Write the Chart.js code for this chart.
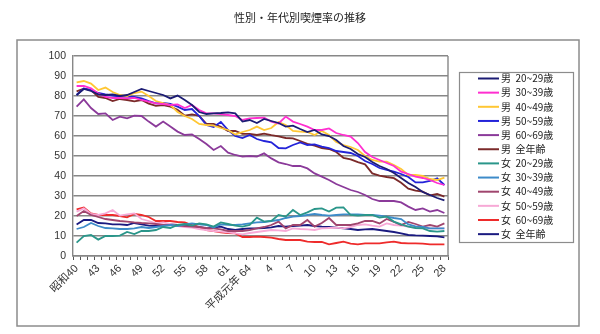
<!DOCTYPE html>
<html>
<head>
<meta charset="utf-8">
<script src="https://cdn.jsdelivr.net/npm/chart.js@4/dist/chart.umd.min.js"></script>
<style>
    html, body { margin: 0; padding: 0; background: #fff; }
    #wrap { width: 600px; height: 334px; }
</style>
</head>
<body>
<div id="wrap"><canvas id="chart" width="600" height="334"></canvas></div>
<script>
const chartTitle = '性別・年代別喫煙率の推移';

// 昭和40年 (1965) 〜 平成28年 (2016)
const years = [
    '昭和40', '41', '42', '43', '44', '45', '46', '47', '48', '49',
    '50', '51', '52', '53', '54', '55', '56', '57', '58', '59',
    '60', '61', '62', '63', '平成元年 64', '2', '3', '4', '5', '6',
    '7', '8', '9', '10', '11', '12', '13', '14', '15', '16',
    '17', '18', '19', '20', '21', '22', '23', '24', '25', '26',
    '27', '28'
];

const yTicks = [0, 10, 20, 30, 40, 50, 60, 70, 80, 90, 100];

const seriesNames = [
    '男  20~29歳', '男  30~39歳', '男  40~49歳', '男  50~59歳', '男  60~69歳', '男  全年齢',
    '女  20~29歳', '女  30~39歳', '女  40~49歳', '女  50~59歳', '女  60~69歳', '女  全年齢'
];

const male20 = [
    80.5, 83.5, 82.5, 80.8, 80.5, 80.8, 80.0, 80.5, 82.0, 83.5,
    82.5, 81.5, 80.5, 78.8, 80.2, 78.0, 75.5, 72.0, 71.0, 71.3,
    71.5, 71.8, 71.3, 67.2, 68.0, 66.5, 68.5, 67.5, 66.5, 64.7,
    65.2, 63.5, 62.0, 63.0, 60.8, 60.0, 58.0, 55.0, 53.5, 51.0,
    49.5, 47.0, 45.0, 43.5, 41.5, 39.0, 36.5, 34.5, 32.0, 30.5,
    29.0, 27.8
];
const male30 = [
    85.0, 85.0, 83.8, 81.3, 79.5, 79.0, 79.0, 78.8, 79.0, 78.0,
    77.2, 76.3, 76.0, 75.5, 75.8, 74.0, 75.5, 73.0, 71.3, 71.3,
    71.0, 70.5, 70.0, 68.0, 68.8, 69.0, 69.2, 67.2, 66.3, 69.7,
    67.2, 66.0, 64.7, 63.0, 63.0, 63.8, 61.5, 60.5, 59.7, 56.5,
    52.0, 49.5, 48.0, 46.5, 45.0, 42.2, 41.0, 39.7, 39.0, 38.0,
    36.5, 35.5
];
const male40 = [
    86.8, 87.5, 86.2, 83.0, 84.2, 82.0, 80.5, 80.0, 81.5, 82.2,
    80.0, 77.5, 76.5, 75.5, 72.0, 70.0, 68.5, 66.0, 65.5, 65.2,
    64.0, 63.0, 60.8, 62.0, 63.0, 64.7, 63.0, 64.0, 67.0, 65.5,
    62.5, 62.2, 62.0, 60.5, 62.5, 60.5, 57.0, 55.5, 54.5, 53.0,
    50.0, 48.0, 47.2, 47.2, 45.5, 43.5, 40.5, 40.5, 40.0, 38.5,
    38.0, 39.2
];
const male50 = [
    80.5, 83.8, 83.0, 81.5, 80.8, 80.2, 79.7, 79.7, 79.5, 78.8,
    77.5, 76.3, 76.5, 76.0, 74.7, 73.0, 73.5, 70.0, 65.5, 64.5,
    67.0, 63.0, 60.0, 59.0, 60.5, 58.5, 57.5, 56.8, 54.0, 53.8,
    55.5, 56.8, 55.5, 55.8, 54.7, 54.0, 52.5, 52.0, 51.5, 50.0,
    47.5, 46.0, 44.0, 43.0, 42.2, 41.0, 39.5, 36.8, 36.8, 37.5,
    38.8, 35.5
];
const male60 = [
    74.7, 78.3, 74.0, 71.0, 71.3, 68.0, 69.7, 68.8, 70.2, 70.0,
    67.2, 64.7, 67.2, 64.7, 62.2, 60.5, 60.8, 58.5, 56.0, 53.0,
    55.0, 51.7, 50.5, 49.7, 50.0, 49.7, 51.3, 48.8, 46.8, 46.0,
    45.0, 45.0, 43.8, 41.3, 39.7, 38.0, 36.0, 34.5, 33.0, 32.0,
    30.5, 28.5, 27.5, 27.5, 27.5, 26.8, 24.7, 23.0, 23.8, 22.2,
    23.0, 21.5
];
const maleAll = [
    82.3, 83.7, 83.0, 79.5, 79.0, 77.5, 78.5, 78.0, 77.3, 78.0,
    76.2, 75.1, 75.4, 74.7, 73.1, 70.2, 70.8, 70.1, 66.1, 66.1,
    64.6, 62.5, 62.5, 61.1, 61.1, 60.5, 61.2, 60.4, 59.8, 59.0,
    58.8, 57.5, 56.1, 55.2, 54.0, 53.5, 52.0, 49.1, 48.3, 46.9,
    45.8, 41.3, 40.2, 39.5, 38.9, 36.6, 33.7, 32.7, 32.2, 30.3,
    31.0, 29.7
];
const female20 = [
    6.7, 10.0, 10.5, 8.2, 10.0, 10.0, 10.2, 12.0, 11.0, 12.5,
    12.5, 13.0, 14.5, 14.0, 15.5, 16.0, 15.2, 16.3, 15.8, 14.7,
    16.8, 16.0, 15.2, 14.7, 15.5, 19.2, 17.2, 17.5, 20.5, 19.7,
    23.0, 20.5, 21.8, 23.5, 23.8, 22.2, 24.2, 24.3, 20.5, 20.2,
    20.5, 20.5, 19.2, 19.7, 17.2, 15.8, 14.7, 14.0, 13.8, 12.5,
    12.2, 12.5
];
const female30 = [
    13.5, 14.5, 16.5, 15.0, 14.0, 13.8, 13.5, 13.5, 13.8, 14.5,
    14.0, 14.5, 15.0, 15.5, 15.0, 15.8, 16.3, 15.8, 15.5, 14.2,
    15.8, 15.6, 15.5, 15.8, 16.3, 16.8, 17.0, 17.5, 18.0, 19.0,
    19.7, 20.0, 20.5, 21.0, 20.5, 20.2, 20.5, 20.8, 20.8, 20.8,
    20.5, 20.5, 20.2, 19.7, 19.0, 18.5, 15.8, 14.8, 14.5, 13.8,
    13.8, 13.8
];
const female40 = [
    20.0, 22.5, 20.5, 19.5, 18.5, 18.0, 17.5, 17.2, 16.8, 16.5,
    16.3, 16.0, 15.5, 15.5, 15.2, 15.0, 14.7, 14.5, 14.0, 13.8,
    13.3, 12.5, 12.5, 12.5, 13.0, 13.8, 14.5, 15.5, 17.2, 13.8,
    15.5, 15.5, 18.0, 14.7, 16.5, 19.0, 15.5, 15.5, 15.5, 16.3,
    17.5, 17.5, 16.3, 18.5, 17.0, 15.5, 17.0, 16.0, 14.7, 15.5,
    14.7, 16.3
];
const female50 = [
    22.2, 23.8, 21.0, 20.5, 21.3, 23.0, 20.2, 20.8, 21.3, 18.5,
    17.5, 16.3, 16.8, 16.0, 15.0, 14.5, 14.2, 13.5, 13.0, 12.5,
    12.2, 11.8, 11.3, 10.8, 11.5, 12.0, 12.5, 13.0, 12.8, 12.5,
    13.8, 13.5, 13.3, 13.0, 13.8, 14.0, 14.2, 13.8, 14.5, 15.5,
    15.8, 15.2, 14.7, 16.3, 15.5, 15.2, 14.7, 14.2, 14.0, 13.8,
    13.8, 13.8
];
const female60 = [
    23.3, 24.2, 21.3, 20.5, 20.5, 20.5, 20.0, 19.3, 21.0, 20.5,
    19.5, 17.5, 17.5, 17.5, 17.0, 16.8, 15.5, 14.5, 13.0, 12.5,
    11.8, 11.5, 11.3, 9.5, 9.5, 9.7, 9.5, 9.2, 8.5, 8.0,
    8.0, 8.0, 7.2, 7.0, 7.0, 5.8, 6.5, 7.2, 6.2, 5.8,
    6.3, 6.3, 6.3, 6.8, 7.2, 6.5, 6.3, 6.3, 6.2, 5.8,
    5.8, 5.8
];
const femaleAll = [
    15.7, 18.0, 18.0, 16.5, 16.3, 15.8, 15.8, 15.5, 16.5, 15.8,
    15.2, 15.0, 15.3, 15.8, 15.5, 15.0, 15.2, 14.5, 13.8, 14.3,
    14.7, 13.5, 13.0, 13.5, 13.8, 13.8, 14.0, 14.3, 15.0, 14.7,
    15.0, 15.2, 15.5, 15.0, 14.7, 14.5, 14.2, 13.8, 13.5, 13.0,
    13.3, 13.5, 13.0, 12.5, 12.0, 11.3, 10.5, 10.3, 10.2, 10.0,
    9.8, 9.3
];

const seriesValues = [male20, male30, male40, male50, male60, maleAll,
    female20, female30, female40, female50, female60, femaleAll];
const seriesColors = [
    '#1c1c74', '#ff2fd0', '#ffc734', '#2323d9', '#8b3a9a', '#7b2a2a',
    '#2a968a', '#3d8bc9', '#a0456e', '#f7a9d6', '#ee2b2b', '#1a1a80'
];

const jpFont = '"Liberation Sans", "Noto Sans CJK JP", sans-serif';
const gridColor = '#878787';

// outer frame, title and the boxed legend on the right
const framePlugin = {
    id: 'framePlugin',
    beforeDraw(chart) {
        const ctx = chart.ctx;
        ctx.save();
        ctx.fillStyle = '#fff';
        ctx.fillRect(0, 0, chart.width, chart.height);
        ctx.strokeStyle = '#8c8c8c';
        ctx.lineWidth = 1.5;
        ctx.strokeRect(17, 40, 562, 286);
        ctx.fillStyle = '#222';
        ctx.font = '11px "Noto Sans CJK JP", sans-serif';
        ctx.textAlign = 'center';
        ctx.textBaseline = 'middle';
        ctx.fillText(chartTitle, 300, 18);
        ctx.restore();
    },
    afterDraw(chart) {
        const ctx = chart.ctx,
            area = chart.chartArea;
        ctx.save();
        ctx.strokeStyle = gridColor;
        ctx.lineWidth = 1.4;
        ctx.beginPath();
        ctx.moveTo(area.right, area.top);
        ctx.lineTo(area.right, area.bottom);
        ctx.stroke();

        ctx.strokeStyle = '#8c8c8c';
        ctx.lineWidth = 1.2;
        ctx.strokeRect(459.5, 72.5, 114, 170);
        ctx.font = '10px "Noto Sans CJK JP", sans-serif';
        ctx.textAlign = 'left';
        ctx.textBaseline = 'middle';
        chart.data.datasets.forEach((ds, k) => {
            const y = 78.5 + k * 14.15;
            ctx.strokeStyle = ds.borderColor;
            ctx.lineWidth = 2;
            ctx.beginPath();
            ctx.moveTo(478, y);
            ctx.lineTo(499, y);
            ctx.stroke();
            ctx.fillStyle = '#222';
            ctx.fillText(ds.label, 501, y);
        });
        ctx.restore();
    }
};

new Chart(document.getElementById('chart'), {
    type: 'line',
    data: {
        labels: years,
        datasets: seriesValues.map((values, k) => ({
            label: seriesNames[k],
            data: values,
            borderColor: seriesColors[k],
            backgroundColor: seriesColors[k],
            borderWidth: 1.8,
            pointRadius: 0,
            tension: 0,
            fill: false
        }))
    },
    options: {
        responsive: false,
        animation: false,
        layout: {
            padding: { left: 0, right: 152, top: 56, bottom: 0 }
        },
        scales: {
            x: {
                offset: true,
                afterFit(scale) { scale.height = 78; },
                grid: {
                    offset: true,
                    drawOnChartArea: false,
                    drawTicks: true,
                    tickLength: 4,
                    color: '#555'
                },
                border: { display: true, color: gridColor, width: 1.4 },
                ticks: {
                    autoSkip: false,
                    minRotation: 45,
                    maxRotation: 45,
                    padding: 2,
                    color: '#333',
                    font: { family: jpFont, size: 11 },
                    callback: (value, i) => (i % 3 === 0 ? years[i] : '')
                }
            },
            y: {
                min: yTicks[0],
                max: yTicks[yTicks.length - 1],
                afterFit(scale) { scale.width = 73; },
                afterBuildTicks(scale) {
                    scale.ticks = yTicks.map(v => ({ value: v }));
                },
                grid: {
                    color: gridColor,
                    lineWidth: 1.4,
                    drawTicks: false
                },
                border: { display: true, color: gridColor, width: 1.4 },
                ticks: {
                    padding: 7,
                    color: '#333',
                    font: { family: jpFont, size: 10.5 }
                }
            }
        },
        plugins: {
            legend: { display: false },
            tooltip: { enabled: false }
        }
    },
    plugins: [framePlugin]
});
</script>
</body>
</html>
